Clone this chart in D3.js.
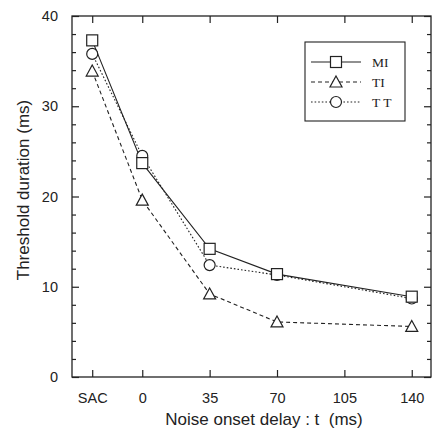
<!DOCTYPE html>
<html>
<head>
<meta charset="utf-8">
<script src="https://cdn.jsdelivr.net/npm/d3@7"></script>
<style>
  body { margin: 0; background: #fff; }
  svg text { fill: #222; }
</style>
</head>
<body>
<div id="chart"></div>
<script>
// x positions: SAC is drawn left of 0 on its own slot
const xPositions = [-26, 0, 35, 70, 140];
const xTickValues = [-26, 0, 35, 70, 105, 140];
const xTickLabels = ['SAC', '0', '35', '70', '105', '140'];
const yTickValues = [0, 10, 20, 30, 40];

const miValues = [37.3, 23.7, 14.2, 11.4, 8.9];
const tiValues = [33.9, 19.6, 9.2, 6.1, 5.6];
const ttValues = [35.8, 24.5, 12.4, 11.3, 8.7];

const seriesNames = ['MI', 'TI', 'T T'];

const config = {
    width: 433,
    height: 432,
    margin: {top: 16, right: 2, bottom: 55, left: 72}
};

const svg = d3.select('#chart').append('svg')
    .attr('width', config.width)
    .attr('height', config.height);

const innerW = config.width - config.margin.left - config.margin.right;
const innerH = config.height - config.margin.top - config.margin.bottom;

const chart = svg.append('g')
    .attr('transform', `translate(${config.margin.left},${config.margin.top})`);

const xScale = d3.scaleLinear().domain([-36.5, 150]).range([0, innerW]);
const yScale = d3.scaleLinear().domain([0, 40]).range([innerH, 0]);

const tickFont = 'Liberation Sans, Arial, sans-serif';

// frame
chart.append('rect')
    .attr('width', innerW)
    .attr('height', innerH)
    .attr('fill', 'none')
    .attr('stroke', '#222')
    .attr('stroke-width', 1.3);

// y axes (left with labels, right mirrored), ticks inward
const yMinor = d3.range(0, 41, 2).filter(v => v % 10 !== 0);
const yAxisL = chart.append('g').call(d3.axisLeft(yScale).tickValues(yTickValues).tickSize(-7).tickPadding(14));
yAxisL.append('g').call(d3.axisLeft(yScale).tickValues(yMinor).tickSize(-4).tickFormat(''));
const yAxisR = chart.append('g').attr('transform', `translate(${innerW},0)`)
    .call(d3.axisRight(yScale).tickValues(yTickValues).tickSize(-7).tickFormat(''));
yAxisR.append('g').call(d3.axisRight(yScale).tickValues(yMinor).tickSize(-4).tickFormat(''));

// x axes (bottom with labels, top mirrored)
chart.append('g').attr('transform', `translate(0,${innerH})`)
    .call(d3.axisBottom(xScale).tickValues(xTickValues).tickSize(-7).tickPadding(16)
        .tickFormat((d, i) => xTickLabels[i]));
chart.append('g')
    .call(d3.axisTop(xScale).tickValues(xTickValues).tickSize(-7).tickFormat(''));

chart.selectAll('.domain').remove();
chart.selectAll('.tick line').attr('stroke', '#222').attr('stroke-width', 1.2);
chart.selectAll('.tick text')
    .attr('font-family', tickFont)
    .attr('font-size', 14.5)
    .attr('fill', '#222');

// axis titles
svg.append('text')
    .attr('transform', 'translate(29,190) rotate(-90)')
    .attr('text-anchor', 'middle')
    .attr('font-family', tickFont)
    .attr('font-size', 17)
    .text('Threshold duration (ms)');

svg.append('text')
    .attr('x', 264)
    .attr('y', 425)
    .attr('text-anchor', 'middle')
    .attr('font-family', tickFont)
    .attr('font-size', 17)
    .attr('xml:space', 'preserve')
    .text('Noise onset delay : t  (ms)');

// series
const series = [
    {name: seriesNames[0], values: miValues, dash: null, marker: 'square'},
    {name: seriesNames[1], values: tiValues, dash: '4,3', marker: 'triangle'},
    {name: seriesNames[2], values: ttValues, dash: '1.6,2', marker: 'circle'}
];

const line = d3.line()
    .x(d => xScale(d.x))
    .y(d => yScale(d.y));

function drawMarker(g, type) {
    if (type === 'square') {
        g.append('rect').attr('x', -5.5).attr('y', -5.5).attr('width', 11).attr('height', 11);
    } else if (type === 'triangle') {
        g.append('path').attr('d', 'M0,-6L6,5L-6,5Z');
    } else {
        g.append('circle').attr('r', 5.5);
    }
    g.selectAll('*').attr('fill', '#fff').attr('stroke', '#222').attr('stroke-width', 1.2);
}

series.forEach(s => {
    const pts = s.values.map((v, i) => ({x: xPositions[i], y: v}));
    chart.append('path')
        .datum(pts)
        .attr('d', line)
        .attr('fill', 'none')
        .attr('stroke', '#222')
        .attr('stroke-width', 1.1)
        .attr('stroke-dasharray', s.dash);
});

// markers drawn after all lines
series.slice().reverse().forEach(s => {
    s.values.forEach((v, i) => {
        const g = chart.append('g')
            .attr('transform', `translate(${xScale(xPositions[i])},${yScale(v)})`);
        drawMarker(g, s.marker);
    });
});

// legend
const legend = svg.append('g').attr('transform', 'translate(305,42)');
legend.append('rect')
    .attr('width', 100)
    .attr('height', 79)
    .attr('fill', '#fff')
    .attr('stroke', '#222')
    .attr('stroke-width', 1.1);

series.forEach((s, i) => {
    const row = legend.append('g').attr('transform', `translate(0,${20 + i * 20})`);
    row.append('line')
        .attr('x1', 6).attr('x2', 56)
        .attr('stroke', '#222')
        .attr('stroke-width', 1.1)
        .attr('stroke-dasharray', s.dash);
    const m = row.append('g').attr('transform', 'translate(31,0)');
    drawMarker(m, s.marker);
    row.append('text')
        .attr('x', 67)
        .attr('y', 5)
        .attr('font-family', 'Liberation Serif, Times New Roman, serif')
        .attr('font-size', 13.5)
        .text(s.name);
});
</script>
</body>
</html>
